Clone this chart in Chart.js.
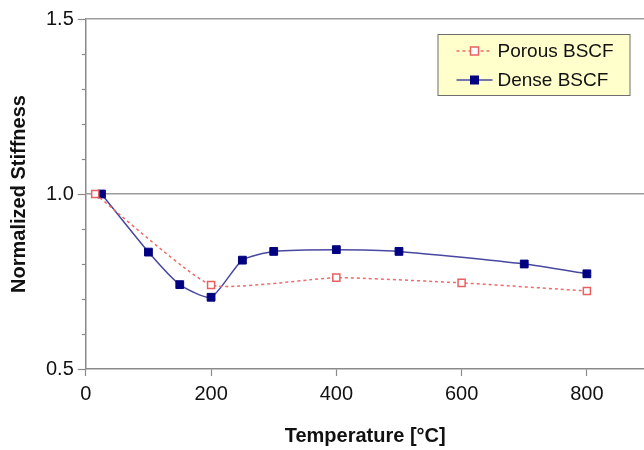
<!DOCTYPE html>
<html>
<head>
<meta charset="utf-8">
<script src="https://cdn.jsdelivr.net/npm/chart.js@4/dist/chart.umd.min.js"></script>
<style>
  html, body { margin: 0; padding: 0; background: #fff; overflow: hidden; }
  #clip { width: 644px; height: 450px; overflow: hidden; }
  #wrap { width: 651px; height: 450px; }
</style>
</head>
<body>
<div id="clip"><div id="wrap"><canvas id="stiffChart"></canvas></div></div>
<script>
// ── Data ──
const POROUS_T = [15, 200, 400, 600, 800];
const POROUS_S = [1.0, 0.74, 0.761, 0.746, 0.723];

const DENSE_T = [25, 100, 150, 200, 250, 300, 400, 500, 700, 800];
const DENSE_S = [1.0, 0.834, 0.741, 0.705, 0.811, 0.836, 0.841, 0.836, 0.80, 0.772];

const X_TICKS = [0, 200, 400, 600, 800];
const Y_LABELS = [0.5, 1.0, 1.5];

const AXIS_GRAY = '#8a8a8a';
const FONT = "'Liberation Sans', Arial, sans-serif";

const toPoints = (xs, ys) => xs.map((x, i) => ({ x, y: ys[i] }));
const isMajor = v => Y_LABELS.some(m => Math.abs(m - v) < 1e-6);

// ── Y ticks: long at labelled values, short in between ──
const yTickMarks = {
    id: 'yTickMarks',
    afterDraw(chart) {
        const y = chart.scales.y;
        const ctx = chart.ctx;
        const x0 = chart.chartArea.left;
        ctx.save();
        ctx.strokeStyle = AXIS_GRAY;
        ctx.lineWidth = 1.2;
        y.ticks.forEach(t => {
            const py = Math.round(y.getPixelForValue(t.value)) + 0.5;
            const len = isMajor(t.value) ? 8 : 4;
            ctx.beginPath();
            ctx.moveTo(x0 - len, py);
            ctx.lineTo(x0, py);
            ctx.stroke();
        });
        ctx.restore();
    }
};

// ── Boxed legend, pinned to the top right of the plot ──
const boxLegend = {
    id: 'boxLegend',
    afterDraw(chart) {
        const ctx = chart.ctx;
        const area = chart.chartArea;
        const bx = area.right - 207, by = area.top + 15, bw = 192, bh = 61;
        ctx.save();
        ctx.fillStyle = '#ffffcc';
        ctx.fillRect(bx, by, bw, bh);
        ctx.strokeStyle = '#6e6e6e';
        ctx.lineWidth = 1;
        ctx.strokeRect(bx + 0.5, by + 0.5, bw, bh);

        chart.data.datasets.forEach((ds, i) => {
            const cy = by + 17 + i * 29;
            const lx = bx + 19, rx = bx + 55, mx = bx + 37;
            ctx.strokeStyle = ds.borderColor;
            ctx.lineWidth = ds.borderWidth;
            ctx.setLineDash(ds.borderDash || []);
            ctx.beginPath();
            ctx.moveTo(lx, cy);
            ctx.lineTo(rx, cy);
            ctx.stroke();
            ctx.setLineDash([]);
            const r = 4;
            ctx.fillStyle = ds.pointBackgroundColor;
            ctx.fillRect(mx - r, cy - r, r * 2, r * 2);
            ctx.strokeStyle = ds.pointBorderColor;
            ctx.lineWidth = ds.pointBorderWidth;
            ctx.strokeRect(mx - r, cy - r, r * 2, r * 2);

            ctx.fillStyle = '#111';
            ctx.font = `19px ${FONT}`;
            ctx.textBaseline = 'middle';
            ctx.fillText(ds.label, bx + 60, cy + 1);
        });
        ctx.restore();
    }
};

new Chart(document.getElementById('stiffChart'), {
    type: 'scatter',
    data: {
        datasets: [
            {
                label: 'Porous BSCF',
                data: toPoints(POROUS_T, POROUS_S),
                showLine: true,
                borderColor: '#f06a6a',
                borderWidth: 1.5,
                borderDash: [3, 3],
                tension: 0.15,
                pointStyle: 'rect',
                pointRadius: 5,
                pointBackgroundColor: '#ffffff',
                pointBorderColor: '#e86060',
                pointBorderWidth: 1.5,
            },
            {
                label: 'Dense BSCF',
                data: toPoints(DENSE_T, DENSE_S),
                showLine: true,
                borderColor: '#4848a0',
                borderWidth: 1.5,
                tension: 0.2,
                pointStyle: 'rect',
                pointRadius: 5.5,
                pointBackgroundColor: '#000080',
                pointBorderColor: '#000080',
                pointBorderWidth: 1,
            }
        ]
    },
    options: {
        responsive: true,
        maintainAspectRatio: false,
        animation: false,
        layout: { padding: { top: 19, right: 0, left: 7, bottom: 2 } },
        scales: {
            x: {
                type: 'linear',
                min: 0,
                max: 892,
                afterBuildTicks: axis => {
                    axis.ticks = X_TICKS.map(v => ({ value: v }));
                },
                grid: {
                    drawOnChartArea: false,
                    tickLength: 7,
                    tickColor: AXIS_GRAY,
                    tickWidth: 1.2,
                },
                border: { color: AXIS_GRAY, width: 1.5 },
                ticks: {
                    color: '#111',
                    font: { family: FONT, size: 20 },
                    padding: 6,
                    maxRotation: 0,
                },
                title: {
                    display: true,
                    text: 'Temperature [°C]',
                    color: '#111',
                    font: { family: FONT, size: 20, weight: 'bold' },
                    padding: { top: 12, bottom: 0 },
                },
            },
            y: {
                min: 0.5,
                max: 1.5,
                afterFit: scale => { scale.paddingTop = 0; scale.paddingBottom = 0; },
                ticks: {
                    stepSize: 0.1,
                    color: '#111',
                    font: { family: FONT, size: 20 },
                    padding: 12,
                    callback: v => isMajor(v) ? v.toFixed(1) : '',
                },
                grid: {
                    drawTicks: false,
                    color: ctx => (ctx.tick && isMajor(ctx.tick.value) && ctx.tick.value > 0.6) ? '#9c9c9c' : 'rgba(0,0,0,0)',
                    lineWidth: 1.5,
                },
                border: { color: AXIS_GRAY, width: 1.5 },
                title: {
                    display: true,
                    text: 'Normalized Stiffness',
                    color: '#111',
                    font: { family: FONT, size: 20, weight: 'bold' },
                    padding: { top: 0, bottom: 3 },
                },
            }
        },
        plugins: {
            legend: { display: false },
            tooltip: { enabled: false },
        }
    },
    plugins: [yTickMarks, boxLegend]
});
</script>
</body>
</html>
